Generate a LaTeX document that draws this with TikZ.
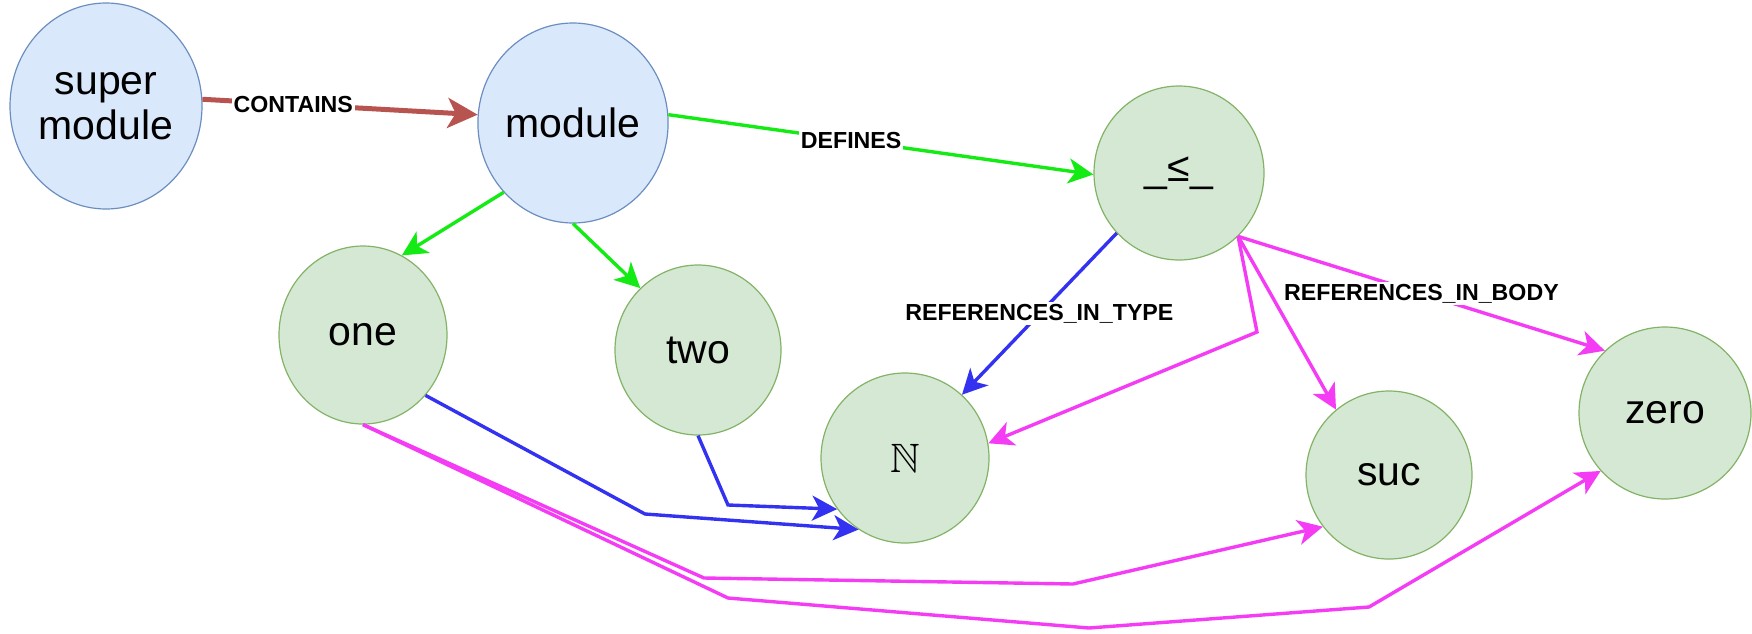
\documentclass[tikz,border=0pt]{standalone}
\usepackage{amssymb}
\usepackage{fontspec}
\setmainfont{Liberation Sans}
\usetikzlibrary{shapes.geometric,arrows.meta}
\definecolor{bluefill}{HTML}{DAE8FC}
\definecolor{bluedraw}{HTML}{6C8EBF}
\definecolor{greenfill}{HTML}{D5E8D4}
\definecolor{greendraw}{HTML}{82B366}
\definecolor{ebrown}{RGB}{184,84,80}
\definecolor{egreen}{RGB}{20,235,20}
\definecolor{eblue}{RGB}{50,50,240}
\definecolor{emag}{RGB}{245,60,245}
\tikzset{
  nd/.style={ellipse, draw, line width=0.6pt, inner sep=0pt, align=center,
    font=\fontsize{20.5}{22.5}\selectfont},
  bnode/.style={nd, fill=bluefill, draw=bluedraw},
  gnode/.style={nd, fill=greenfill, draw=greendraw},
  edge/.style={line width=1.7pt, -{Stealth[length=12.5pt,width=12.5pt,inset=3.5pt]}, line join=miter},
  thickedge/.style={line width=2.5pt, -{Stealth[length=15pt,width=15pt,inset=4pt]}},
  lbl/.style={fill=white, text=black, inner sep=1pt, font=\fontsize{11.6}{13}\selectfont\bfseries}
}
\begin{document}
\begin{tikzpicture}[x=0.5pt,y=-0.5pt]
\useasboundingbox (0,0) rectangle (1752,633);
\node[bnode, minimum width=96pt, minimum height=103pt] (super) at (106,106) {super\\module};
\node[bnode, minimum width=95pt, minimum height=100pt] (module) at (573,123) {module};
\node[gnode, minimum width=85pt, minimum height=87pt] (le) at (1179,173) {\_≤\_};
\node[gnode, minimum width=84pt, minimum height=89pt] (one) at (363,335) {one};
\node[gnode, minimum width=83pt, minimum height=85pt] (two) at (698,350) {two};
\node[gnode, minimum width=84pt, minimum height=85pt] (nat) at (905,458) {$\mathbb{N}$};
\node[gnode, minimum width=83pt, minimum height=84pt] (suc) at (1389,475) {suc};
\node[gnode, minimum width=86pt, minimum height=86pt] (zero) at (1665,413) {zero};

\coordinate (b1) at (645,514);
\coordinate (b2) at (728,505);
\coordinate (b3) at (1257,332);
\coordinate (s1) at (704,578);
\coordinate (s2) at (1073,584);
\coordinate (z1) at (728,598);
\coordinate (z2) at (1089,628);
\coordinate (z3) at (1369,607);

\draw[ebrown, thickedge] (super.4) -- node[lbl, pos=0.33] {CONTAINS} (module.175);
\draw[edge, egreen] (module.5) -- node[lbl, pos=0.43] {DEFINES} (le.181);
\draw[edge, egreen] (module.225) -- (one.64);
\draw[edge, egreen] (module.270) -- (two.133);

\draw[edge, eblue] (le.224) -- node[lbl, pos=0.5] {REFERENCES\_IN\_TYPE} (nat.48);
\draw[edge, eblue] (one.-44) -- (b1) -- (nat.237);
\draw[edge, eblue] (two.270) -- (b2) -- (nat.217);

\draw[edge, emag] (le.-47) -- node[lbl, pos=0.5] {REFERENCES\_IN\_BODY} (zero.134);
\draw[edge, emag] (le.-47) -- (suc.129);
\draw[edge, emag] (le.-47) -- (b3) -- (nat.10);
\draw[edge, emag] (one.270) -- (s1) -- (s2) -- (suc.218);
\draw[edge, emag] (one.270) -- (z1) -- (z2) -- (z3) -- (zero.222);
\end{tikzpicture}
\end{document}
